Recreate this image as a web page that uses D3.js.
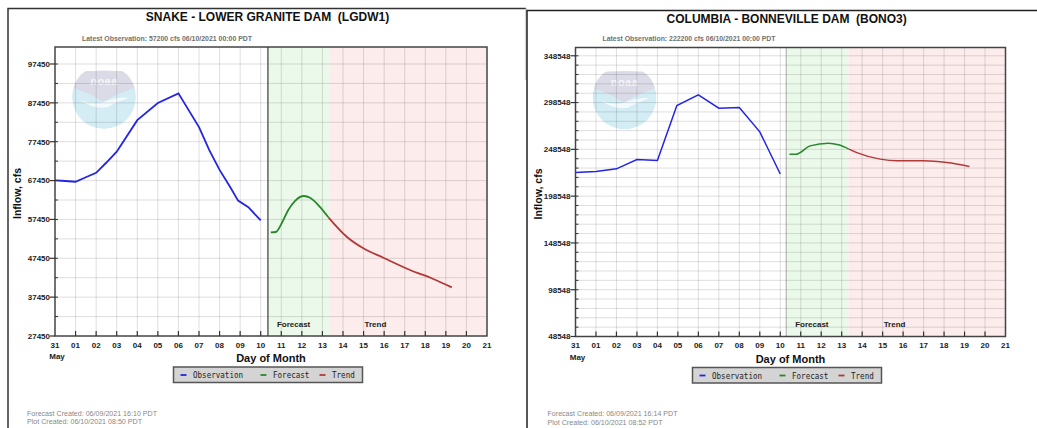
<!DOCTYPE html>
<html><head><meta charset="utf-8">
<script src="https://cdn.jsdelivr.net/npm/d3@7"></script>
<style>body{margin:0;background:#fff}svg{display:block}text{font-family:"Liberation Sans",Arial,sans-serif}</style>
</head><body><svg id="c" width="1037" height="428"></svg>
<script>
// ---------- DATA ----------
const dayLabels = ["31","01","02","03","04","05","06","07","08","09","10","11","12","13","14","15","16","17","18","19","20","21"];

const snakeYTicks = [27450,37450,47450,57450,67450,77450,87450,97450];
const snakeObsDay  = [0,0.33,1,1.5,2,2.5,3,4,5,6,7,7.5,8,8.5,8.9,9.4,10];
const snakeObsFlow = [67500,67400,67150,68300,69450,72100,74900,83000,87400,89900,81200,75300,70200,65900,62300,60600,57200];
const snakeFcstDay  = [10.49,10.73,11.02,11.34,11.66,12.1,12.4,12.8,13.29];
const snakeFcstFlow = [54140,54210,56450,59880,62190,63480,63040,61160,58000];
const snakeTrendDay  = [13.29,14.18,14.99,15.96,17.26,18.39,19.29];
const snakeTrendFlow = [58000,53000,50020,47600,44440,42120,39980];

const bonnYTicks = [48548,98548,148548,198548,248548,298548,348548];
const bonnObsDay  = [0,1,2,3,4,4.95,6,7,8,9,10];
const bonnObsFlow = [223700,224800,227700,237600,236600,295400,306800,292600,293200,267300,222200];
const bonnFcstDay  = [10.45,10.78,11.46,12.36,12.84,13.33];
const bonnFcstFlow = [243400,243400,252300,255200,253400,249100];
const bonnTrendDay  = [13.33,13.74,14.88,15.7,17.0,18.14,19.24];
const bonnTrendFlow = [249100,245100,238100,236300,236300,234400,230200];

const legendLabels = ["Observation","Forecast","Trend"];
const seriesColors = ["#2424e6","#2a862a","#b43838"];

// ---------- DRAW ----------
const svg = d3.select("#c");
const zip = (a,b)=>a.map((d,i)=>[d,b[i]]);

// panel frames
svg.append("path").attr("d","M8,428V8.5H526").attr("fill","none").attr("stroke","#333").attr("stroke-width",1.5);
svg.append("line").attr("x1",526).attr("x2",526).attr("y1",8).attr("y2",80).attr("stroke","#aaa");
svg.append("path").attr("d","M527,428V10.5H1037").attr("fill","none").attr("stroke","#222").attr("stroke-width",1.5);

function panel(o){
  const g = svg.append("g");
  const x = d3.scaleLinear().domain([0,21]).range([o.x0,o.x1]);
  const y = d3.scaleLinear().domain(o.yDomain).range([o.y1,o.y0]);

  // shaded regions
  g.append("rect").attr("x",x(o.now)).attr("y",o.y0).attr("width",x(o.fcstEnd)-x(o.now)).attr("height",o.y1-o.y0).attr("fill","#ebf9eb");
  g.append("rect").attr("x",x(o.fcstEnd)).attr("y",o.y0).attr("width",x(21)-x(o.fcstEnd)).attr("height",o.y1-o.y0).attr("fill","#fcecec");

  // NOAA watermark logo
  const cx = o.x0+49, cy = o.y0+50, r = 32;
  const cid = "clip"+o.id;
  g.append("clipPath").attr("id",cid).append("circle").attr("cx",cx).attr("cy",cy).attr("r",r);
  const lg = g.append("g").attr("clip-path",`url(#${cid})`);
  lg.append("circle").attr("cx",cx).attr("cy",cy).attr("r",r).attr("fill","#d4edf5");
  lg.append("rect").attr("x",cx-r).attr("y",cy-r).attr("width",2*r).attr("height",6).attr("fill","#fff");
  lg.append("path").attr("d",`M${cx-31},${cy-24} Q${cx},${cy-29} ${cx+31},${cy-24} L${cx+31},${cy-9} Q${cx+14},${cy-4} ${cx-1},${cy+5} Q${cx-14},${cy-4} ${cx-31},${cy-9} Z`).attr("fill","#dadbe6");
  lg.append("path").attr("d",`M${cx-24},${cy+3} Q${cx-8},${cy+9} ${cx+3},${cy+4} Q${cx+14},${cy-1} ${cx+25},${cy+1} Q${cx+12},${cy+5} ${cx+4},${cy+10} Q${cx-9},${cy+13} ${cx-24},${cy+3} Z`).attr("fill","#f3fafd");
  lg.append("text").attr("x",cx).attr("y",cy-12).attr("text-anchor","middle").attr("font-size",11).attr("font-weight","bold").attr("fill","#f5f5fa").attr("letter-spacing",0.5).text("noaa");

  // grid
  const gridC = "rgba(0,0,0,0.13)";
  g.selectAll(".vg").data(d3.range(1,21)).join("line")
    .attr("x1",d=>x(d)).attr("x2",d=>x(d)).attr("y1",o.y0).attr("y2",o.y1).attr("stroke",gridC);
  g.selectAll(".hg").data(d3.range(o.yDomain[0]+o.gridStep,o.yDomain[1],o.gridStep)).join("line")
    .attr("x1",o.x0).attr("x2",o.x1).attr("y1",d=>y(d)).attr("y2",d=>y(d)).attr("stroke",gridC);

  // now line
  g.append("line").attr("x1",x(o.now)).attr("x2",x(o.now)).attr("y1",o.y0).attr("y2",o.y1)
    .attr("stroke",o.nowDotted?"#555":"#606060").attr("stroke-width",o.nowDotted?1:1.5)
    .attr("stroke-dasharray",o.nowDotted?"1,1":null);

  // region labels
  g.append("text").attr("x",x(o.now)+9).attr("y",o.y1-9.5).attr("font-size",8).attr("font-weight","bold").attr("fill","#222").text("Forecast");
  g.append("text").attr("x",x(15)+1).attr("y",o.y1-9.5).attr("font-size",8).attr("font-weight","bold").attr("fill","#222").text("Trend");

  // series
  const lineLin = d3.line().x(d=>x(d[0])).y(d=>y(d[1]));
  const lineSm = d3.line().x(d=>x(d[0])).y(d=>y(d[1])).curve(d3.curveMonotoneX);
  g.append("path").attr("d",lineLin(zip(o.obsDay,o.obsFlow))).attr("fill","none").attr("stroke",seriesColors[0]).attr("stroke-width",o.lw);
  g.append("path").attr("d",lineSm(zip(o.fcstDay,o.fcstFlow))).attr("fill","none").attr("stroke",seriesColors[1]).attr("stroke-width",o.lw);
  g.append("path").attr("d",lineSm(zip(o.trendDay,o.trendFlow))).attr("fill","none").attr("stroke",seriesColors[2]).attr("stroke-width",o.lw);

  // border
  g.append("rect").attr("x",o.x0).attr("y",o.y0).attr("width",o.x1-o.x0).attr("height",o.y1-o.y0)
    .attr("fill","none").attr("stroke","#444").attr("stroke-width",1.5);

  // x ticks
  g.selectAll(".xt").data(d3.range(1,21)).join("line")
    .attr("x1",d=>x(d)).attr("x2",d=>x(d)).attr("y1",o.y1).attr("y2",o.y1-5).attr("stroke","#333").attr("stroke-width",1.2);
  g.selectAll(".xl").data(dayLabels).join("text")
    .attr("x",(d,i)=>x(i)).attr("y",o.y1+11.5).attr("text-anchor","middle")
    .attr("font-size",8).attr("font-weight","bold").attr("fill","#222").text(d=>d);
  g.append("text").attr("x",x(0)+2).attr("y",o.y1+23).attr("text-anchor","middle").attr("font-size",8).attr("font-weight","bold").attr("fill","#222").text("May");
  g.append("text").attr("x",x(10.5)).attr("y",o.y1+26).attr("text-anchor","middle").attr("font-size",11).attr("font-weight","bold").attr("fill","#111").text("Day of Month");

  // y ticks
  g.selectAll(".ymin").data(d3.range(o.yDomain[0]+o.gridStep,o.yDomain[1],o.gridStep)).join("line")
    .attr("x1",o.x0).attr("x2",o.x0+3).attr("y1",d=>y(d)).attr("y2",d=>y(d)).attr("stroke","#333");
  g.selectAll(".yt").data(o.yTicks).join("line")
    .attr("x1",o.x0).attr("x2",o.x0-5).attr("y1",d=>y(d)).attr("y2",d=>y(d)).attr("stroke","#333").attr("stroke-width",1.2);
  g.selectAll(".yl").data(o.yTicks).join("text")
    .attr("x",o.x0-5).attr("y",d=>y(d)).attr("dy","0.35em").attr("text-anchor","end")
    .attr("font-size",8).attr("font-weight","bold").attr("fill","#222").text(d=>d);
  g.append("text").attr("transform",`translate(${o.x0-34},${(o.y0+o.y1)/2+2}) rotate(-90)`).attr("text-anchor","middle")
    .attr("font-size",10.5).attr("font-weight","bold").attr("fill","#111").text("Inflow, cfs");

  // title & notes
  g.append("text").attr("x",o.titleX).attr("y",o.titleY).attr("text-anchor","middle").style("white-space","pre")
    .attr("font-size",12).attr("font-weight","bold").attr("fill","#111").text(o.title);
  g.append("text").attr("x",o.x0+27).attr("y",o.y0-6.5).attr("font-size",6.5).attr("fill","#707070").attr("font-weight","bold")
    .attr("textLength",o.latestLen).attr("lengthAdjust","spacingAndGlyphs").text(o.latest);
  g.append("text").attr("x",o.x0-28).attr("y",o.y1+79.5).attr("font-size",6.5).attr("fill","#888")
    .attr("textLength",130).attr("lengthAdjust","spacingAndGlyphs").text(o.fcstCreated);
  g.append("text").attr("x",o.x0-28).attr("y",o.y1+88).attr("font-size",6.5).attr("fill","#888")
    .attr("textLength",115).attr("lengthAdjust","spacingAndGlyphs").text(o.plotCreated);

  // legend
  const lx = o.legX, ly = o.y1+31;
  g.append("rect").attr("x",lx).attr("y",ly).attr("width",189).attr("height",15.5).attr("fill","#d4d4d4").attr("stroke","#555").attr("stroke-width",1.5);
  const offs = [0,80,139];
  legendLabels.forEach((t,i)=>{
    g.append("line").attr("x1",lx+7+offs[i]).attr("x2",lx+13+offs[i]).attr("y1",ly+8).attr("y2",ly+8).attr("stroke",seriesColors[i]).attr("stroke-width",1.8);
    g.append("text").attr("x",lx+19.5+offs[i]).attr("y",ly+11).attr("font-size",8).attr("fill","#222")
      .attr("textLength",t.length*4.55).attr("lengthAdjust","spacingAndGlyphs")
      .style("font-family","'DejaVu Sans Mono','Liberation Mono',monospace").text(t);
  });
}

panel({id:"a", x0:55, x1:487, y0:47, y1:336, yDomain:[27450,101825], gridStep:5000, yTicks:snakeYTicks,
  now:10.35, fcstEnd:13.33, nowDotted:false, lw:1.8,
  obsDay:snakeObsDay, obsFlow:snakeObsFlow, fcstDay:snakeFcstDay, fcstFlow:snakeFcstFlow, trendDay:snakeTrendDay, trendFlow:snakeTrendFlow,
  title:"SNAKE - LOWER GRANITE DAM  (LGDW1)", titleX:267.5, titleY:21,
  latest:"Latest Observation: 57200 cfs 06/10/2021 00:00 PDT", latestLen:170,
  fcstCreated:"Forecast Created: 06/09/2021 16:10 PDT", plotCreated:"Plot Created: 06/10/2021 08:50 PDT", legX:173.5});

panel({id:"b", x0:575.5, x1:1005.5, y0:47.5, y1:336.5, yDomain:[48548,357400], gridStep:10000, yTicks:bonnYTicks,
  now:10.29, fcstEnd:13.33, nowDotted:true, lw:1.5,
  obsDay:bonnObsDay, obsFlow:bonnObsFlow, fcstDay:bonnFcstDay, fcstFlow:bonnFcstFlow, trendDay:bonnTrendDay, trendFlow:bonnTrendFlow,
  title:"COLUMBIA - BONNEVILLE DAM  (BONO3)", titleX:786.7, titleY:22.5,
  latest:"Latest Observation: 222200 cfs 06/10/2021 00:00 PDT", latestLen:173,
  fcstCreated:"Forecast Created: 06/09/2021 16:14 PDT", plotCreated:"Plot Created: 06/10/2021 08:52 PDT", legX:692.5});
</script></body></html>
